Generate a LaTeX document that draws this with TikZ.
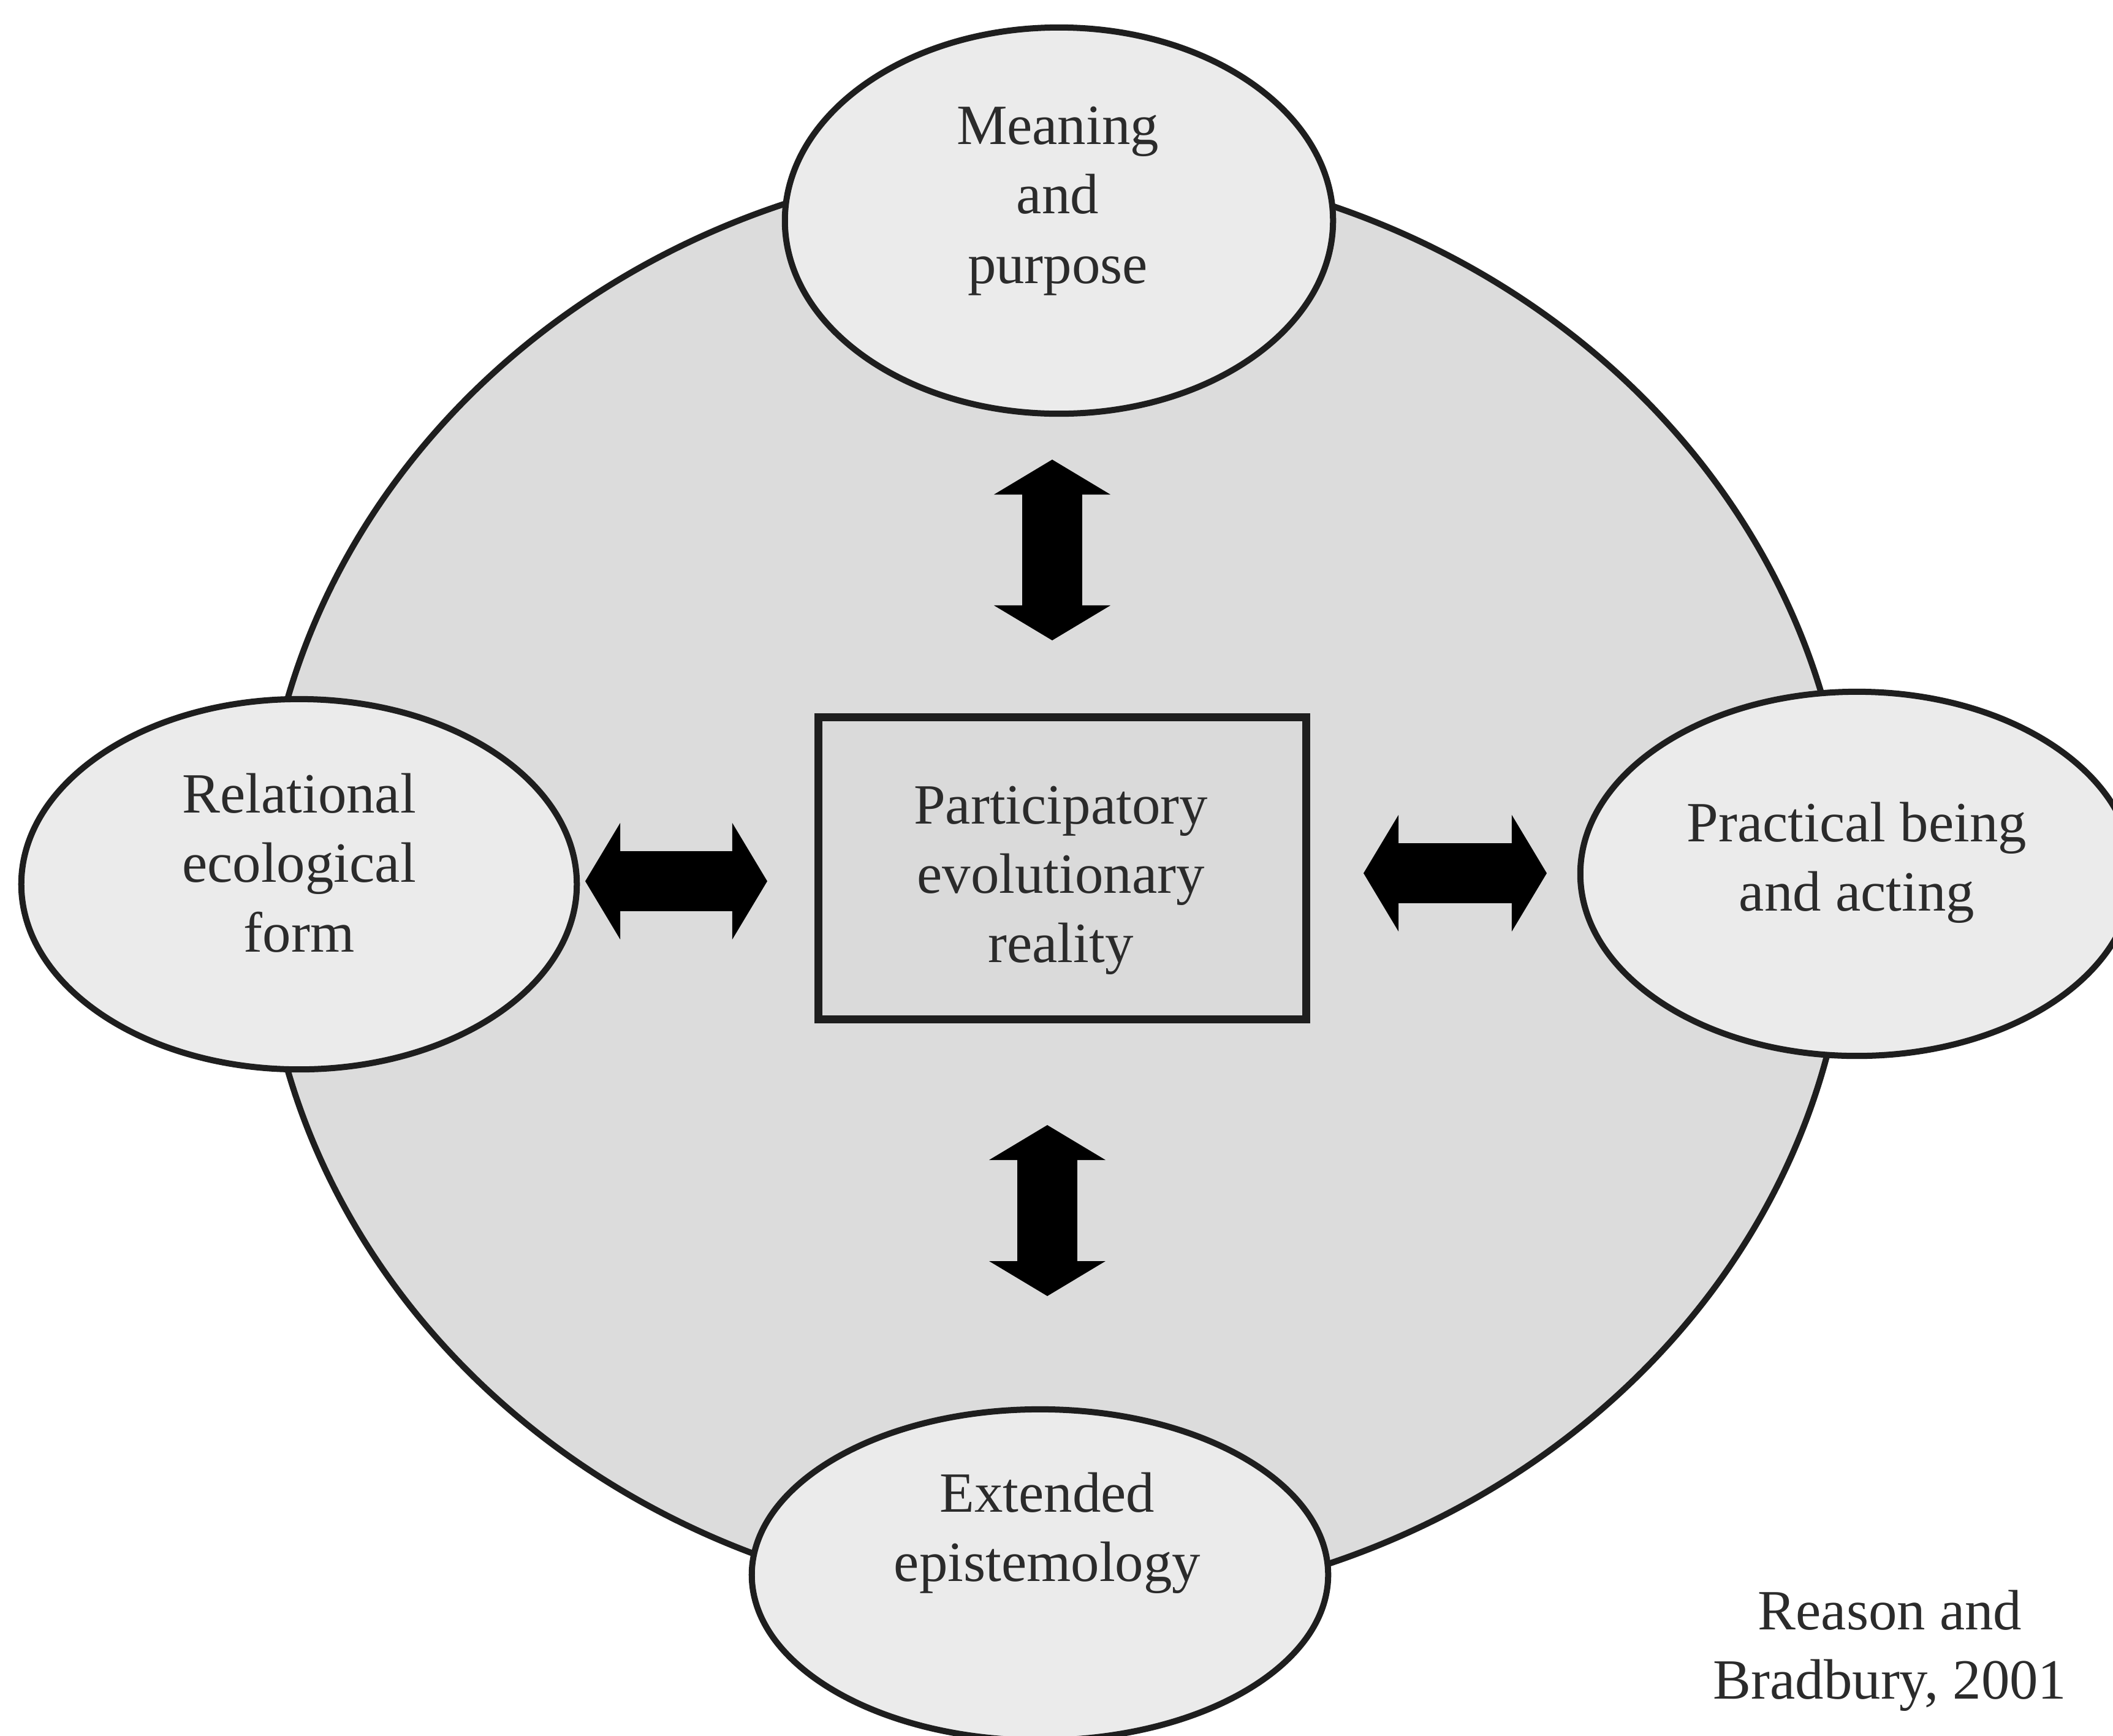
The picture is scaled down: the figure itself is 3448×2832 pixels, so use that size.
\documentclass[tikz,border=0pt]{standalone}
\usepackage{fontspec}
\setmainfont{Liberation Serif}
\usetikzlibrary{shapes.geometric,arrows.meta}
\definecolor{ink}{HTML}{1E1E1E}
\definecolor{discfill}{HTML}{DCDCDC}
\definecolor{lobefill}{HTML}{EBEBEB}
\definecolor{corefill}{HTML}{DADADA}
\definecolor{txt}{HTML}{2B2B2B}
\begin{document}
\begin{tikzpicture}[x=0.01cm,y=-0.01cm,
  lobe/.style={ellipse, draw=ink, fill=lobefill, line width=0.1cm, inner sep=0pt},
  lobetext/.style={align=center, text=txt, inner sep=0pt,
    font=\fontsize{26.4pt}{32.2pt}\selectfont},
  blocktip/.tip={Triangle[width=1.9cm,length=0.57cm,line width=0pt]},
  dblarrow/.style={line width=0.98cm, draw=black, blocktip-blocktip},
]
\useasboundingbox (0,0) rectangle (3448,2832);

% the large disc behind everything
\node[ellipse, draw=ink, fill=discfill, line width=0.1cm, inner sep=0pt,
      minimum width=25.9cm, minimum height=23.6cm] (disc) at (1722,1443) {};

% the four lobes on the rim
\node[lobe, minimum width=8.94cm, minimum height=6.3cm]  (meaning)    at (1728,360)  {};
\node[lobe, minimum width=9.06cm, minimum height=6.04cm] (relational) at (488,1443)  {};
\node[lobe, minimum width=9.02cm, minimum height=5.94cm] (practical)  at (3030,1426) {};
\node[lobe, minimum width=9.4cm,  minimum height=5.4cm]  (extended)   at (1697,2570) {};

% central box
\node[draw=ink, fill=corefill, line width=0.13cm, inner sep=0pt,
      minimum width=7.95cm, minimum height=4.92cm] (core) at (1733.5,1417) {};

% texts
\node[lobetext] (meaningtxt)    at (1726,328)  {Meaning\\and\\purpose};
\node[lobetext] (relationaltxt) at (488,1408)  {Relational\\ecological\\form};
\node[lobetext] (practicaltxt)  at (3030,1408) {Practical being\\and acting};
\node[lobetext] (coretxt)       at (1731,1437) {Participatory\\evolutionary\\reality};
\node[lobetext] (extendedtxt)   at (1709,2502) {Extended\\epistemology};
\node[lobetext] (source)        at (3084,2694) {Reason and\\Bradbury, 2001};

% two-headed block arrows between the box and the lobes
\coordinate (upA) at (1717,750);  \coordinate (upB) at (1717,1045);
\coordinate (lfA) at (955,1438);  \coordinate (lfB) at (1252,1438);
\coordinate (rtA) at (2225,1425); \coordinate (rtB) at (2524,1425);
\coordinate (dnA) at (1709,1836); \coordinate (dnB) at (1709,2115);
\draw[dblarrow] (upA) -- (upB);
\draw[dblarrow] (lfA) -- (lfB);
\draw[dblarrow] (rtA) -- (rtB);
\draw[dblarrow] (dnA) -- (dnB);
\end{tikzpicture}
\end{document}
